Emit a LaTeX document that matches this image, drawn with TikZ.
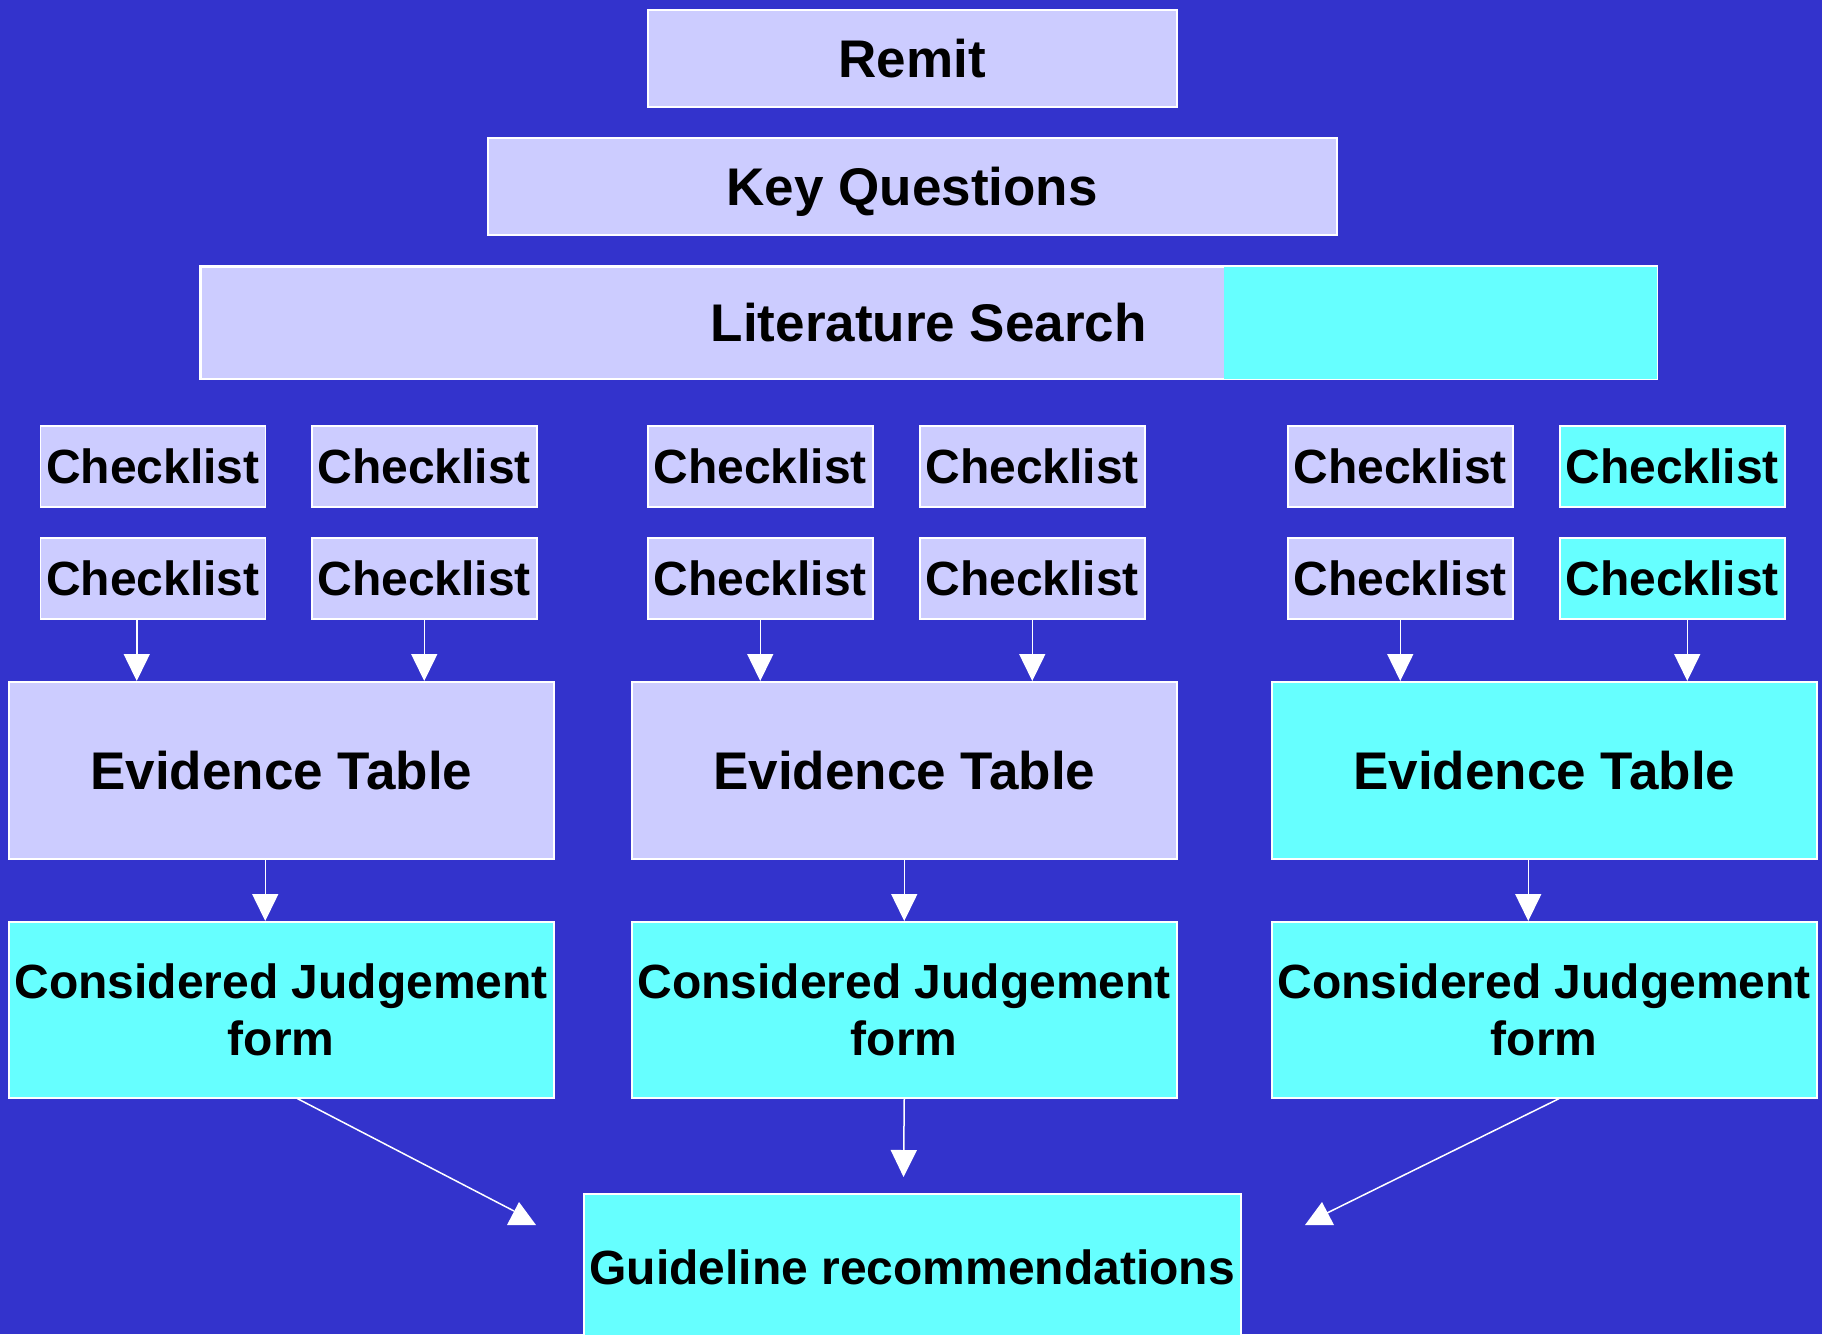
\documentclass[tikz,border=0pt]{standalone}
\usepackage{fontspec}
\setmainfont{Liberation Sans}
\usetikzlibrary{arrows.meta}
\definecolor{bg}{RGB}{51,51,204}
\definecolor{lav}{RGB}{204,204,255}
\definecolor{cyn}{RGB}{102,255,255}
\begin{document}
\begin{tikzpicture}[x=1pt,y=-1pt,
  box/.style={draw=white, line width=1.5pt, inner sep=0pt, anchor=north west, align=center, text=black},
  big/.style={font=\fontsize{53}{60}\selectfont\bfseries},
  small/.style={font=\fontsize{48}{57}\selectfont\bfseries},
  chk/.style={box, small, minimum width=225pt, minimum height=81pt},
  etab/.style={box, big, minimum width=545pt, minimum height=177pt},
  cjf/.style={box, small, fill=cyn, minimum width=545pt, minimum height=176pt},
  arr/.style={draw=white, line width=1.5pt, -{Triangle[width=26pt,length=27pt]}},
  ln/.style={draw=white, line width=1.5pt},
  tip/.style={fill=white}
]
\fill[bg] (0,0) rectangle (1822,1334);
\useasboundingbox (0,0) rectangle (1822,1334);

% top boxes
\node[box, big, fill=lav, minimum width=529pt, minimum height=97pt] (remit) at (647,9) {Remit};
\node[box, big, fill=lav, minimum width=849pt, minimum height=97pt, text depth=0pt] (kq) at (487,137) {Key Questions};
\node[box, big, fill=lav, minimum width=1456pt, minimum height=112pt] (lit) at (200,266) {};
\fill[cyn] ([xshift=1024pt]lit.north west) rectangle (lit.south east);
\draw[white, line width=1.5pt] (lit.north west) rectangle (lit.south east);
\node[big, text=black, inner sep=0pt] (littext) at (lit.center) {Literature Search};

% checklists
\node[chk, fill=lav] (c11) at (39.5,425) {Checklist};
\node[chk, fill=lav] (c12) at (311,425) {Checklist};
\node[chk, fill=lav] (c13) at (647,425) {Checklist};
\node[chk, fill=lav] (c14) at (919,425) {Checklist};
\node[chk, fill=lav] (c15) at (1287,425) {Checklist};
\node[chk, fill=cyn] (c16) at (1559,425) {Checklist};
\node[chk, fill=lav] (c21) at (39.5,537) {Checklist};
\node[chk, fill=lav] (c22) at (311,537) {Checklist};
\node[chk, fill=lav] (c23) at (647,537) {Checklist};
\node[chk, fill=lav] (c24) at (919,537) {Checklist};
\node[chk, fill=lav] (c25) at (1287,537) {Checklist};
\node[chk, fill=cyn] (c26) at (1559,537) {Checklist};

% evidence tables
\node[etab, fill=lav] (et1) at (8,681) {Evidence Table};
\node[etab, fill=lav] (et2) at (631,681) {Evidence Table};
\node[etab, fill=cyn] (et3) at (1271,681) {Evidence Table};

% considered judgement forms
\node[cjf] (cj1) at (8,921) {Considered Judgement\\form};
\node[cjf] (cj2) at (631,921) {Considered Judgement\\form};
\node[cjf] (cj3) at (1271,921) {Considered Judgement\\form};

% guideline
\node[box, small, fill=cyn, minimum width=657pt, minimum height=148pt] (gl) at (583,1193) {Guideline recommendations};

% arrows checklists -> evidence tables
\draw[arr] ([xshift=-16pt]c21.south) -- ([xshift=-16pt]c21.south |- et1.north);
\draw[arr] (c22.south) -- (c22.south |- et1.north);
\draw[arr] (c23.south) -- (c23.south |- et2.north);
\draw[arr] (c24.south) -- (c24.south |- et2.north);
\draw[arr] (c25.south) -- (c25.south |- et3.north);
\draw[arr] ([xshift=15pt]c26.south) -- ([xshift=15pt]c26.south |- et3.north);

% evidence tables -> CJ forms
\draw[arr] ([xshift=-16pt]et1.south) -- ([xshift=-16pt]cj1.north);
\draw[arr] (et2.south) -- (cj2.north);
\draw[arr] ([xshift=-16pt]et3.south) -- ([xshift=-16pt]cj3.north);

% CJ forms -> guideline
\coordinate (gtip) at (903.5,1177);
\draw[arr] (cj2.south) -- (gtip);
\coordinate (tl) at (514,1211);
\coordinate (tr) at (1327,1213);
\draw[ln] ([xshift=16pt]cj1.south) -- (tl);
\draw[ln] ([xshift=15pt]cj3.south) -- (tr);
\fill[tip] (519,1202) -- (536,1225) -- (507,1225) -- cycle;
\fill[tip] (1322,1202) -- (1334,1225) -- (1305,1225) -- cycle;
\end{tikzpicture}
\end{document}
